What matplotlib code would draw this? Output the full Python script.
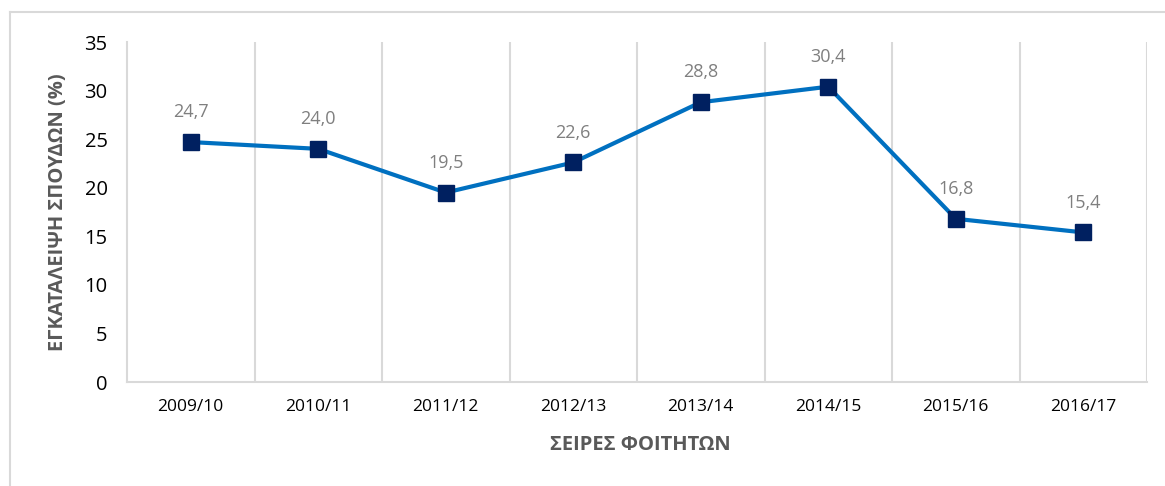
import matplotlib
matplotlib.use("Agg")
import matplotlib.pyplot as plt

categories = ["2009/10", "2010/11", "2011/12", "2012/13", "2013/14", "2014/15", "2015/16", "2016/17"]
values = [24.7, 24.0, 19.5, 22.6, 28.8, 30.4, 16.8, 15.4]
value_labels = ["24,7", "24,0", "19,5", "22,6", "28,8", "30,4", "16,8", "15,4"]
yticks = [0, 5, 10, 15, 20, 25, 30, 35]

plt.rcParams['font.family'] = ['Open Sans', 'DejaVu Sans']

W, H = 1165, 486
fig = plt.figure(figsize=(W / 100, H / 100), dpi=100)
ax = fig.add_axes([127 / W, 1 - 382 / H, (1147 - 127) / W, (382 - 42) / H])

# outer chart border (left and top visible)
fig.add_artist(plt.Line2D([10 / W, 10 / W], [0, 1 - 12 / H], transform=fig.transFigure, color="#d9d9d9", lw=1.5))
fig.add_artist(plt.Line2D([10 / W, 1], [1 - 12 / H, 1 - 12 / H], transform=fig.transFigure, color="#d9d9d9", lw=1.5))

x = [i + 0.5 for i in range(len(categories))]
ax.plot(x, values, color="#0070C0", lw=3, marker="s", markersize=12,
        markerfacecolor="#002060", markeredgecolor="#002060", zorder=3)

for xi, v, lab in zip(x, values, value_labels):
    ax.annotate(lab, (xi, v), xytext=(0, 15), textcoords="offset points",
                ha="center", va="bottom", color="#7f7f7f", fontsize=13)

ax.set_xlim(0, len(categories))
ax.set_ylim(0, 35)
ax.set_yticks(yticks)
ax.set_yticklabels([str(t) for t in yticks], fontsize=14.5)
ax.set_xticks(x)
ax.set_xticklabels(categories, fontsize=12.5)
ax.tick_params(axis="both", length=0, colors="black")
ax.tick_params(axis="x", pad=12)
ax.tick_params(axis="y", pad=14)

for b in range(1, len(categories) + 1):
    ax.axvline(b, color="#d9d9d9", lw=1.5, zorder=1)

for s in ["top", "right"]:
    ax.spines[s].set_visible(False)
for s in ["left", "bottom"]:
    ax.spines[s].set_color("#d9d9d9")
    ax.spines[s].set_linewidth(1.5)

fig.text(58 / W, 1 - 212 / H, "ΕΓΚΑΤΑΛΕΙΨΗ ΣΠΟΥΔΩΝ (%)", rotation=90, ha="center", va="center",
         fontsize=14.5, fontweight="bold", color="#595959")
fig.text(640 / W, 1 - 445 / H, "ΣΕΙΡΕΣ ΦΟΙΤΗΤΩΝ", ha="center", va="center",
         fontsize=14.5, fontweight="bold", color="#595959")

fig.savefig("out.png", dpi=100, facecolor="white")
